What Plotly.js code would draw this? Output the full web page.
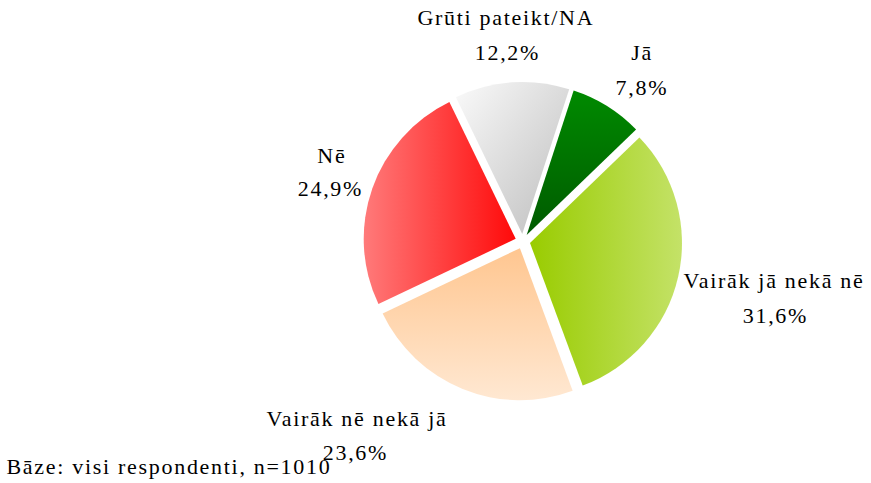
<!DOCTYPE html>
<html>
<head>
<meta charset="utf-8">
<script src="https://cdn.plot.ly/plotly-3.0.1.min.js"></script>
<style>
html,body{margin:0;padding:0;background:#fff;}
#chart{width:871px;height:483px;}
#chart .annotation-text{letter-spacing:1.7px;}
</style>
</head>
<body>
<div id="chart"></div>
<script>
// Data
const labels = ["Jā", "Vairāk jā nekā nē", "Vairāk nē nekā jā", "Nē", "Grūti pateikt/NA"];
const values = [7.8, 31.6, 23.6, 24.9, 12.2];
const colors = ["#007200", "#b0d63e", "#ffd8b2", "#ff4a4a", "#e2e2e2"];
const baseNote = "Bāze: visi respondenti, n=1010";

// label positions (paper px) for the label text and the value text
const labelPos = [[642, 53], [774, 280], [357, 418], [332, 155], [506, 17]];
const valuePos = [[642, 87], [775, 315], [355, 452], [330, 189], [507, 53]];

const W = 871, H = 483;
const fnt = {family: "Liberation Serif", size: 22, color: "#000"};

function fmt(v){ return v.toFixed(1).replace('.', ',') + '%'; }

const annotations = [];
labels.forEach((lab, i) => {
  annotations.push({text: lab, x: labelPos[i][0]/W, y: 1 - labelPos[i][1]/H, xref: 'paper', yref: 'paper',
    xanchor: 'center', yanchor: 'middle', showarrow: false, font: fnt});
  annotations.push({text: fmt(values[i]), x: valuePos[i][0]/W, y: 1 - valuePos[i][1]/H, xref: 'paper', yref: 'paper',
    xanchor: 'center', yanchor: 'middle', showarrow: false, font: fnt});
});
annotations.push({text: baseNote, x: 169/W, y: 1 - 466/H, xref: 'paper', yref: 'paper',
  xanchor: 'center', yanchor: 'middle', showarrow: false, font: fnt});

const trace = {
  type: 'pie',
  labels: labels,
  values: values,
  sort: false,
  direction: 'clockwise',
  rotation: 18,
  pull: [0.049, 0.049, 0.049, 0.049, 0.049],
  marker: {colors: colors, line: {width: 0}},
  textinfo: 'none',
  hoverinfo: 'none',
  showlegend: false,
  domain: {x: [0.4171, 0.7832], y: [0.1702, 0.8306]}
};

const layout = {
  width: W, height: H,
  margin: {l: 0, r: 0, t: 0, b: 0},
  paper_bgcolor: '#fff',
  plot_bgcolor: '#fff',
  showlegend: false,
  annotations: annotations
};

// gradient definitions per slice: [x1,y1,x2,y2, startColor, endColor]
const grads = [
  [0, 0, 0, 1, "#008a00", "#005a00"],
  [0, 0, 1, 0, "#99cc00", "#c4e268"],
  [0, 0, 0, 1, "#ffc690", "#ffe8d2"],
  [0, 0, 1, 0, "#ff7a7a", "#ff0a0a"],
  [0, 0, 1, 1, "#fafafa", "#bdbdbd"]
];

Plotly.newPlot('chart', [trace], layout, {displayModeBar: false, staticPlot: true}).then(gd => {
  const svg = gd.querySelector('svg.main-svg');
  const ns = 'http://www.w3.org/2000/svg';
  let defs = svg.querySelector('defs');
  if (!defs) { defs = document.createElementNS(ns, 'defs'); svg.insertBefore(defs, svg.firstChild); }
  grads.forEach((g, i) => {
    const lg = document.createElementNS(ns, 'linearGradient');
    lg.setAttribute('id', 'sliceGrad' + i);
    lg.setAttribute('x1', g[0]); lg.setAttribute('y1', g[1]);
    lg.setAttribute('x2', g[2]); lg.setAttribute('y2', g[3]);
    const s1 = document.createElementNS(ns, 'stop');
    s1.setAttribute('offset', '0'); s1.setAttribute('stop-color', g[4]);
    const s2 = document.createElementNS(ns, 'stop');
    s2.setAttribute('offset', '1'); s2.setAttribute('stop-color', g[5]);
    lg.appendChild(s1); lg.appendChild(s2);
    defs.appendChild(lg);
  });
  const slices = gd.querySelectorAll('g.slice path.surface');
  slices.forEach((p, i) => { p.style.fill = 'url(#sliceGrad' + i + ')'; });
});
</script>
</body>
</html>
